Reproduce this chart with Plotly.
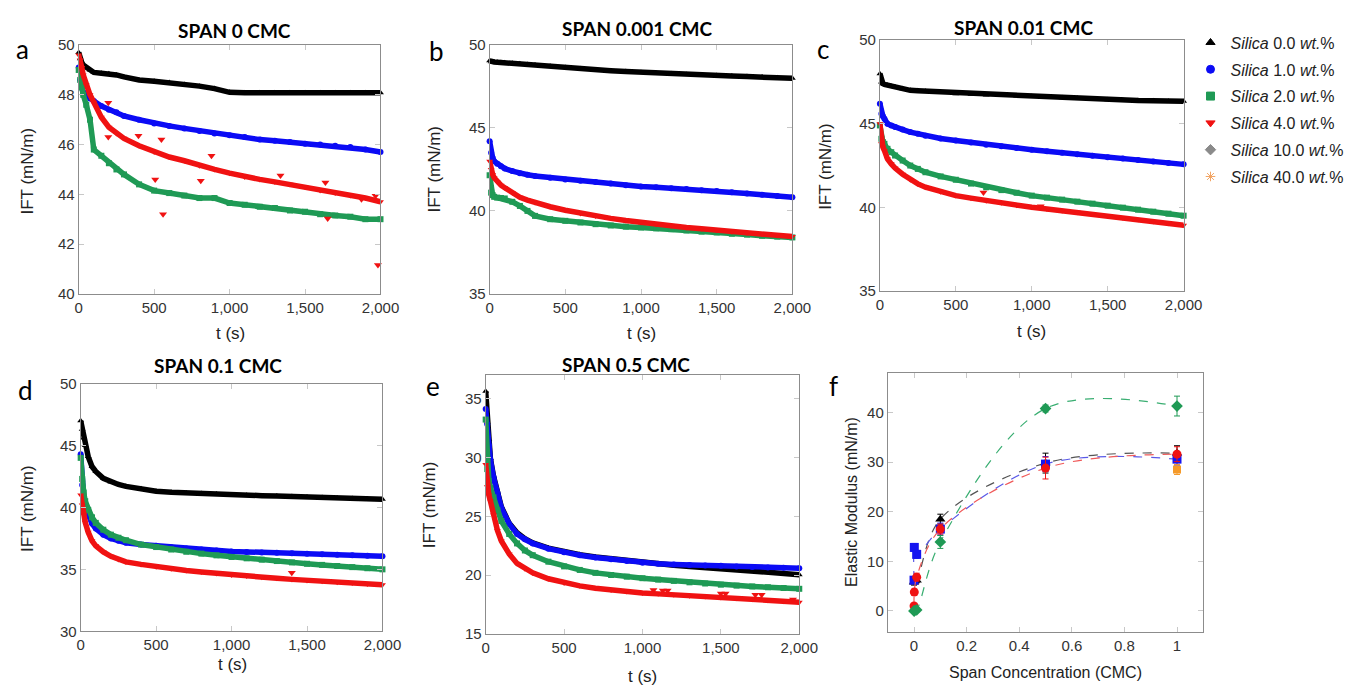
import plotly.graph_objects as go

W, H = 1355, 690

# ---------------- data ----------------
T = [0, 10, 20, 30, 50, 75, 100, 150, 200, 250, 300, 400, 500, 600, 700, 800,
     900, 1000, 1100, 1200, 1300, 1400, 1500, 1600, 1700, 1800, 1900, 2000]

# SPAN 0 CMC
a_s0 = [49.7, 49.45, 49.3, 49.2, 49.1, 49.0, 48.9, 48.87, 48.85, 48.8, 48.72, 48.6, 48.55, 48.5,
        48.42, 48.35, 48.25, 48.1, 48.08, 48.08, 48.08, 48.08, 48.08, 48.08, 48.08, 48.08, 48.08, 48.08]
a_s1 = [49.1, 48.6, 48.3, 48.1, 48.0, 47.85, 47.75, 47.55, 47.4, 47.3, 47.15, 47.0, 46.85, 46.75,
        46.65, 46.55, 46.45, 46.38, 46.3, 46.2, 46.15, 46.1, 46.03, 46.0, 45.95, 45.9, 45.8, 45.7]
a_s2 = [49.0, 48.6, 48.3, 48.0, 47.6, 47.0, 45.8, 45.55, 45.25, 45.0, 44.8, 44.4, 44.15, 44.05,
        43.95, 43.85, 43.85, 43.65, 43.58, 43.5, 43.45, 43.35, 43.3, 43.2, 43.15, 43.1, 43.0, 43.0]
a_s4 = [49.6, 49.4, 49.1, 48.8, 48.4, 48.0, 47.7, 47.1, 46.7, 46.45, 46.25, 45.95, 45.7, 45.5,
        45.35, 45.15, 45.0, 44.85, 44.7, 44.6, 44.5, 44.4, 44.3, 44.15, 44.05, 43.95, 43.85, 43.7]
a_out_t = [196, 196, 396, 548, 507, 559, 809, 880, 1337, 1635, 1650, 1874, 1967, 1983]
a_out_y = [47.68, 46.3, 46.35, 46.2, 44.6, 43.2, 44.55, 45.55, 44.76, 44.48, 43.03, 43.8, 43.94, 41.16]

# SPAN 0.001 CMC
b_s0 = [49.05, 49.0, 49.0, 48.98, 48.97, 48.95, 48.93, 48.9, 48.87, 48.83, 48.8, 48.72, 48.65, 48.58,
        48.5, 48.45, 48.4, 48.35, 48.3, 48.27, 48.23, 48.2, 48.17, 48.13, 48.1, 48.07, 48.03, 48.0]
b_s1 = [44.2, 43.5, 43.2, 43.0, 42.85, 42.7, 42.55, 42.4, 42.27, 42.18, 42.1, 42.0, 41.9, 41.82,
        41.75, 41.65, 41.55, 41.47, 41.42, 41.37, 41.32, 41.25, 41.2, 41.12, 41.05, 40.97, 40.9, 40.82]
b_s2 = [42.15, 41.1, 40.95, 40.85, 40.8, 40.78, 40.75, 40.55, 40.3, 40.0, 39.7, 39.5, 39.4, 39.3,
        39.2, 39.12, 39.05, 39.0, 38.95, 38.9, 38.82, 38.75, 38.7, 38.62, 38.57, 38.5, 38.45, 38.4]
b_s4 = [43.0, 42.5, 42.2, 42.0, 41.76, 41.55, 41.4, 41.1, 40.82, 40.65, 40.5, 40.25, 40.04, 39.85,
        39.7, 39.55, 39.42, 39.3, 39.2, 39.1, 39.0, 38.92, 38.83, 38.75, 38.67, 38.6, 38.52, 38.45]

# SPAN 0.01 CMC
c_s0 = [48.0, 47.5, 47.4, 47.35, 47.3, 47.25, 47.2, 47.1, 47.0, 46.97, 46.95, 46.87, 46.8, 46.76,
        46.72, 46.69, 46.66, 46.63, 46.6, 46.56, 46.52, 46.47, 46.43, 46.41, 46.39, 46.37, 46.35, 46.34]
c_s1 = [46.2, 45.6, 45.45, 45.3, 45.0, 44.9, 44.8, 44.65, 44.5, 44.4, 44.28, 44.12, 44.0, 43.88,
        43.75, 43.65, 43.55, 43.45, 43.36, 43.27, 43.18, 43.09, 43.0, 42.92, 42.83, 42.74, 42.65, 42.57]
c_s2 = [44.9, 44.1, 43.9, 43.8, 43.5, 43.3, 43.1, 42.8, 42.5, 42.3, 42.1, 41.85, 41.65, 41.42,
        41.2, 41.03, 40.87, 40.7, 40.58, 40.46, 40.34, 40.22, 40.1, 39.98, 39.86, 39.74, 39.62, 39.5]
c_s4 = [45.0, 43.8, 43.6, 43.4, 42.9, 42.6, 42.35, 41.98, 41.65, 41.4, 41.2, 40.93, 40.7, 40.55,
        40.4, 40.27, 40.13, 40.0, 39.9, 39.8, 39.7, 39.6, 39.5, 39.38, 39.27, 39.15, 39.04, 38.93]
c_out_t = [682, 1059]
c_out_y = [40.88, 40.06]

# SPAN 0.1 CMC
d_s0 = [47.0, 46.3, 45.6, 45.0, 44.1, 43.3, 42.9, 42.35, 42.05, 41.85, 41.7, 41.5, 41.3, 41.22,
        41.16, 41.12, 41.08, 41.0, 40.98, 40.95, 40.92, 40.88, 40.85, 40.8, 40.76, 40.72, 40.68, 40.65]
d_s1 = [44.3, 41.8, 40.8, 40.0, 39.3, 38.7, 38.3, 37.8, 37.5, 37.3, 37.15, 37.0, 36.9, 36.78,
        36.68, 36.6, 36.52, 36.45, 36.41, 36.37, 36.33, 36.29, 36.25, 36.21, 36.17, 36.13, 36.09, 36.05]
d_s2 = [44.0, 42.3, 41.2, 40.5, 39.8, 39.2, 38.75, 38.2, 37.8, 37.55, 37.35, 37.0, 36.8, 36.6,
        36.42, 36.27, 36.13, 36.0, 35.89, 35.78, 35.67, 35.56, 35.45, 35.36, 35.27, 35.18, 35.09, 35.0]
d_s4 = [41.0, 40.2, 39.4, 38.8, 38.0, 37.3, 36.9, 36.4, 36.05, 35.8, 35.6, 35.4, 35.2, 35.05,
        34.9, 34.78, 34.66, 34.55, 34.46, 34.37, 34.28, 34.19, 34.1, 34.03, 33.96, 33.89, 33.82, 33.75]
d_out_t = [1399]
d_out_y = [34.73]

# SPAN 0.5 CMC
e_s0 = [35.6, 33.0, 31.5, 29.9, 28.4, 27.0, 25.8, 24.4, 23.6, 23.1, 22.75, 22.3, 22.0, 21.75,
        21.55, 21.4, 21.2, 21.05, 20.95, 20.85, 20.75, 20.65, 20.55, 20.45, 20.35, 20.25, 20.15, 20.05]
e_s1 = [34.1, 32.8, 31.0, 29.8, 28.3, 27.0, 25.7, 24.35, 23.5, 23.05, 22.7, 22.25, 21.95, 21.7,
        21.5, 21.35, 21.2, 21.05, 20.98, 20.92, 20.87, 20.83, 20.8, 20.75, 20.7, 20.66, 20.63, 20.6]
e_s2 = [33.2, 29.0, 28.0, 27.4, 26.6, 25.5, 24.6, 23.5, 22.7, 22.1, 21.7, 21.15, 20.75, 20.45,
        20.2, 20.02, 19.88, 19.75, 19.63, 19.52, 19.4, 19.3, 19.2, 19.12, 19.05, 18.98, 18.92, 18.85]
e_s4 = [29.4, 27.5, 26.8, 26.3, 25.1, 23.8, 22.9, 21.8, 21.0, 20.55, 20.2, 19.7, 19.35, 19.1,
        18.9, 18.75, 18.62, 18.5, 18.42, 18.35, 18.27, 18.2, 18.12, 18.04, 17.96, 17.88, 17.8, 17.72]
e_out_t = [1070, 1130, 1160, 1500, 1530, 1720, 1760, 1960]
e_out_y = [18.75, 18.7, 18.7, 18.45, 18.45, 18.35, 18.35, 17.95]

# Elastic modulus (panel f)
f_x = [0, 0.001, 0.01, 0.1, 0.5, 1.0]
f_s0 = [5.8, 6.0, 6.2, 18.5, 29.8, 31.8]
f_s0_err = [0.6, 0.5, 0.5, 1.0, 2.0, 1.5]
f_s1 = [6.2, 12.8, 11.4, 16.5, 29.6, 30.6]
f_s1_err = [0.5, 0.8, 0.8, 1.2, 1.5, 1.2]
f_s4 = [1.0, 3.8, 6.8, 16.5, 28.8, 31.6]
f_s4_err = [0.5, 0.6, 0.8, 1.0, 2.2, 1.5]
f_s2 = [0.0, 0.0, 0.2, 13.9, 40.8, 41.3]
f_s2_err = [0.4, 0.4, 0.4, 1.3, 0.7, 2.0]
f_s40_x = [1.0]
f_s40 = [28.5]
f_s40_err = [1.0]

legend_labels = ["0.0", "1.0", "2.0", "4.0", "10.0", "40.0"]

# ---------------- styles ----------------
COL = {"0": "#000000", "1": "#0b0bf5", "2": "#1f9a55", "4": "#f01212",
       "10": "#8a8a8a", "40": "#f2a463"}
SYM = {"0": "triangle-up", "1": "circle", "2": "square", "4": "triangle-down",
       "10": "diamond", "40": "asterisk"}
TICKFONT = dict(family="Liberation Sans", size=15, color="#333333")
AXCOL = "#8c8c8c"


def dx(p0, p1):
    return [p0 / W, p1 / W]


def dy(top, bottom):
    return [1 - bottom / H, 1 - top / H]


fig = go.Figure()

panels = [
    ("", dx(76, 383), dy(37, 292), [40, 50], list(range(40, 51, 2)),
     [("0", a_s0), ("1", a_s1), ("2", a_s2), ("4", a_s4)], (a_out_t, a_out_y)),
    ("2", dx(494, 802), dy(37, 292), [35, 50], [35, 40, 45, 50],
     [("0", b_s0), ("1", b_s1), ("2", b_s2), ("4", b_s4)], None),
    ("3", dx(891, 1200), dy(32, 289), [35, 50], [35, 40, 45, 50],
     [("0", c_s0), ("1", c_s1), ("2", c_s2), ("4", c_s4)], (c_out_t, c_out_y)),
    ("4", dx(78, 385), dy(384, 638), [30, 50], [30, 35, 40, 45, 50],
     [("0", d_s0), ("1", d_s1), ("2", d_s2), ("4", d_s4)], (d_out_t, d_out_y)),
    ("5", dx(490, 809), dy(375, 641), [15, 37], [15, 20, 25, 30, 35],
     [("0", e_s0), ("1", e_s1), ("2", e_s2), ("4", e_s4)], (e_out_t, e_out_y)),
]

layout_axes = {}
for key, xd, yd, yr, yt, series, outl in panels:
    xa, ya = "x" + key, "y" + key
    for k, ys in series:
        fig.add_trace(go.Scatter(
            x=T, y=ys, mode="lines+markers", xaxis=xa, yaxis=ya,
            line=dict(color=COL[k], width=5.5),
            marker=dict(symbol=SYM[k], size=6, color=COL[k]),
            showlegend=False, cliponaxis=False, hoverinfo="skip"))
    if outl is not None:
        fig.add_trace(go.Scatter(
            x=outl[0], y=outl[1], mode="markers", xaxis=xa, yaxis=ya,
            marker=dict(symbol="triangle-down", size=7, color=COL["4"]),
            showlegend=False, cliponaxis=False, hoverinfo="skip"))
    common = dict(showline=True, linecolor=AXCOL, linewidth=1, mirror="ticks",
                  ticks="inside", ticklen=5, tickcolor="#c8c8c8", showgrid=False,
                  zeroline=False, tickfont=TICKFONT)
    layout_axes["xaxis" + key] = dict(domain=xd, range=[0, 2000], anchor=ya,
                                      tickvals=[0, 500, 1000, 1500, 2000],
                                      ticktext=["0", "500", "1,000", "1,500", "2,000"],
                                      **common)
    layout_axes["yaxis" + key] = dict(domain=yd, range=yr, anchor=xa, tickvals=yt, **common)

# panel f
fx, fy = "x6", "y6"
f_series = [("0", f_s0, f_s0_err, "triangle-up", "#000000", "#555555"),
            ("1", f_s1, f_s1_err, "square", "#1515f0", "#5a5ae8"),
            ("4", f_s4, f_s4_err, "circle", "#f01212", "#f05a5a"),
            ("2", f_s2, f_s2_err, "diamond", "#1f9a55", "#3aae72")]
for k, ys, er, sym, mc, lc in f_series:
    fig.add_trace(go.Scatter(
        x=f_x, y=ys, mode="lines", xaxis=fx, yaxis=fy,
        line=dict(color=lc, width=1.2, dash="dash", shape="spline", smoothing=1.0),
        showlegend=False, hoverinfo="skip"))
    fig.add_trace(go.Scatter(
        x=f_x, y=ys, mode="markers", xaxis=fx, yaxis=fy,
        marker=dict(symbol=sym, size=9, color=mc),
        error_y=dict(type="data", array=er, color=mc, thickness=1, width=3),
        showlegend=False, cliponaxis=False, hoverinfo="skip"))
fig.add_trace(go.Scatter(
    x=f_s40_x, y=f_s40, mode="markers", xaxis=fx, yaxis=fy,
    marker=dict(symbol="square", size=8, color="#f59a2a"),
    error_y=dict(type="data", array=f_s40_err, color="#f59a2a", thickness=1, width=3),
    showlegend=False, cliponaxis=False, hoverinfo="skip"))
commonf = dict(showline=True, linecolor=AXCOL, linewidth=1, mirror="ticks",
               ticks="inside", ticklen=5, tickcolor="#c8c8c8", showgrid=False,
               zeroline=False, tickfont=TICKFONT)
layout_axes["xaxis6"] = dict(domain=dx(899, 1220), range=[-0.1, 1.1], anchor="y6",
                             tickvals=[0, 0.2, 0.4, 0.6, 0.8, 1.0],
                             ticktext=["0", "0.2", "0.4", "0.6", "0.8", "1"], **commonf)
layout_axes["yaxis6"] = dict(domain=dy(373, 639), range=[-4.3, 48], anchor="x6",
                             tickvals=[0, 10, 20, 30, 40], **commonf)

# legend-only traces
for k, lab in zip(["0", "1", "2", "4", "10", "40"], legend_labels):
    fig.add_trace(go.Scatter(
        x=[None], y=[None], mode="markers", xaxis="x", yaxis="y",
        marker=dict(symbol=SYM[k], size=8, color=COL[k],
                    line=dict(color=COL[k], width=1)),
        name="<i>Silica</i> " + lab + " <i>wt.</i>%", legendgroup=k, showlegend=True))

# ---------------- annotations ----------------
ann = []


def A(text, x, y, size, family="Liberation Sans", bold=False, angle=0, color="#222222"):
    t = "<b>" + text + "</b>" if bold else text
    ann.append(dict(text=t, x=x / W, y=1 - y / H, xref="paper", yref="paper",
                    showarrow=False, xanchor="center", yanchor="middle", textangle=angle,
                    font=dict(family=family, size=size, color=color)))


titles = [("SPAN 0 CMC", 234, 22), ("SPAN 0.001 CMC", 644, 20), ("SPAN 0.01 CMC", 1037, 19),
          ("SPAN 0.1 CMC", 218, 365), ("SPAN 0.5 CMC", 633, 364)]
for t, x, y in titles:
    A(t, x, y, 19, family="Lato", bold=True, color="#000000")

letters = [("a", 19, 41), ("b", 440, 43), ("c", 833, 41), ("d", 22, 391), ("e", 436, 387), ("f", 844, 387)]
for t, x, y in letters:
    A(t, x, y, 26, family="Lato", color="#000000")

for x, y in [(230, 333), (648, 333), (1045, 331), (232, 672), (650, 684)]:
    A("t (s)", x, y, 17)
for x, y in [(24, 166), (438, 164), (835, 161), (24, 512), (433, 508)]:
    A("IFT (mN/m)", x, y, 17, angle=-90)
A("Span Concentration (CMC)", 1059, 680, 16)
A("Elastic Modulus (mN/m)", 862, 505, 16, angle=-90)

fig.update_layout(
    width=W, height=H, margin=dict(l=0, r=0, t=0, b=0),
    paper_bgcolor="white", plot_bgcolor="white",
    showlegend=True,
    legend=dict(x=1207 / W, y=1 - 17 / H, xanchor="left", yanchor="top",
                font=dict(family="Liberation Sans", size=16, color="#222222"),
                bgcolor="rgba(0,0,0,0)", tracegroupgap=3),
    annotations=ann,
    **layout_axes,
)

fig.write_html("out.html")
